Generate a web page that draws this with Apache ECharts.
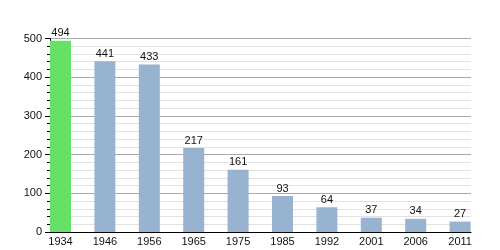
<!DOCTYPE html>
<html><head><meta charset="utf-8">
<script src="https://cdn.jsdelivr.net/npm/echarts@6/dist/echarts.min.js"></script>
<style>html,body{margin:0;padding:0;background:#fff}#c{width:500px;height:250px}</style>
</head><body><div id="c"></div>
<script>
const categories = ['1934','1946','1956','1965','1975','1985','1992','2001','2006','2011'];
const population = [494, 441, 433, 217, 161, 93, 64, 37, 34, 27];
const highlightIndex = 0;

const font = 'Liberation Sans, Arial, sans-serif';
const chart = echarts.init(document.getElementById('c'));
chart.setOption({
  animation: false,
  grid: [
    {left: 50, top: 38.5, width: 421, height: 193.5},
    {left: 38.3, top: 38.5, width: 444, height: 193.5}
  ],
  xAxis: [
    {type: 'value', gridIndex: 0, min: 0, max: 1, position: 'bottom',
     axisLine: {show: true, lineStyle: {color: '#000', width: 1}},
     axisTick: {show: false}, axisLabel: {show: false}, splitLine: {show: false}},
    {type: 'category', gridIndex: 1, data: categories, boundaryGap: true,
     axisLine: {show: false}, axisTick: {show: false},
     axisLabel: {color: '#111', fontSize: 11, fontFamily: font, margin: 4}}
  ],
  yAxis: [
    {type: 'value', gridIndex: 0, min: 0, max: 500, interval: 100,
     axisLine: {show: true, lineStyle: {color: '#000', width: 1}},
     axisTick: {show: true, length: 5, lineStyle: {color: '#000'}},
     minorTick: {show: true, splitNumber: 5, length: 3, lineStyle: {color: '#000'}},
     axisLabel: {color: '#111', fontSize: 11, fontFamily: font, margin: 8},
     splitLine: {show: true, lineStyle: {color: '#aaaaaa', width: 1}},
     minorSplitLine: {show: true, lineStyle: {color: '#e2e2e2', width: 1}}},
    {type: 'value', gridIndex: 1, min: 0, max: 500, show: false, splitLine: {show: false}}
  ],
  series: [{
    type: 'bar', xAxisIndex: 1, yAxisIndex: 1, barWidth: 21,
    data: population.map((v, i) => ({value: v, itemStyle: {color: i === highlightIndex ? '#66e066' : '#98b3cf'}})),
    label: {show: true, position: 'top', distance: 2, color: '#111', fontSize: 11, fontFamily: font}
  }]
});
</script></body></html>
